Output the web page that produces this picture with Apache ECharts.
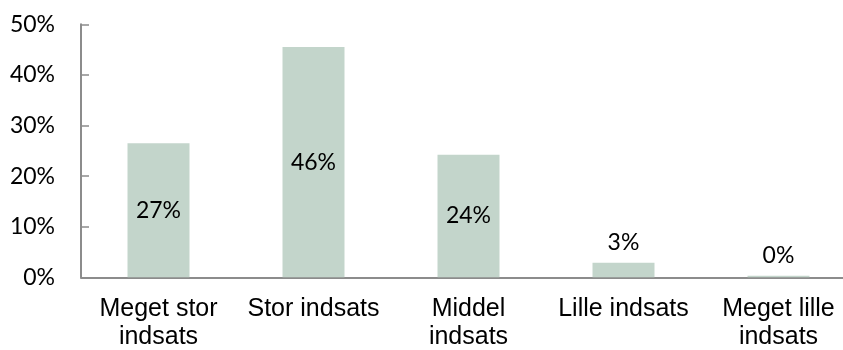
<!DOCTYPE html>
<html>
<head>
<meta charset="utf-8">
<script src="https://cdn.jsdelivr.net/npm/echarts@6/dist/echarts.min.js"></script>
<style>
  html, body { margin: 0; padding: 0; background: #fff; }
  #chart { width: 843px; height: 350px; }
</style>
</head>
<body>
<div id="chart"></div>
<script>
// Share of respondents per effort level (percent)
const categories = ['Meget stor\nindsats', 'Stor indsats', 'Middel\nindsats', 'Lille indsats', 'Meget lille\nindsats'];
const shares = [26.5, 45.5, 24.2, 2.9, 0.3];
const yTicks = { min: 0, max: 50, step: 10 };

const axisGray = '#8c8c8c';
const barColor = '#c3d5cb';
const numFont = 'Lato, "Open Sans", sans-serif';

// Small bars get their label above, tall bars get it centred inside
const barData = shares.map(v => ({
  value: v,
  label: v < 5
    ? { position: 'top', distance: 9 }
    : { position: 'inside' }
}));

const chart = echarts.init(document.getElementById('chart'), null, { renderer: 'canvas' });
chart.setOption({
  animation: false,
  backgroundColor: '#ffffff',
  grid: { left: 81, right: -13, top: 24.3, bottom: 72.7, containLabel: false, outerBoundsMode: 'none' },
  xAxis: {
    type: 'category',
    data: categories,
    axisLine: { show: true, lineStyle: { color: axisGray, width: 2 } },
    axisTick: { show: false },
    axisLabel: {
      interval: 0,
      hideOverlap: false,
      margin: 18,
      color: '#000',
      fontFamily: '"Liberation Sans", Arial, sans-serif',
      fontSize: 25,
      lineHeight: 28
    },
    splitLine: { show: false }
  },
  yAxis: {
    type: 'value',
    min: yTicks.min,
    max: yTicks.max,
    interval: yTicks.step,
    axisLine: { show: true, lineStyle: { color: axisGray, width: 2 } },
    axisTick: { show: true, inside: true, length: 8, lineStyle: { color: axisGray, width: 1.5 } },
    axisLabel: {
      formatter: '{value}%',
      margin: 26,
      color: '#000',
      fontFamily: numFont,
      fontSize: 23
    },
    splitLine: { show: false }
  },
  series: [{
    type: 'bar',
    data: barData,
    barWidth: 62,
    itemStyle: { color: barColor },
    label: {
      show: true,
      color: '#000',
      fontFamily: numFont,
      fontSize: 23,
      formatter: p => Math.round(p.value) + '%'
    }
  }]
});
</script>
</body>
</html>
